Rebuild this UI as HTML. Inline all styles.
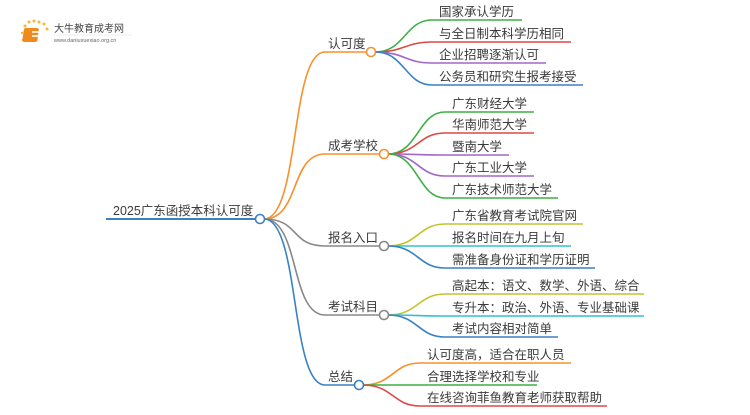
<!DOCTYPE html>
<html><head><meta charset="utf-8"><style>
body{margin:0;background:#fff;width:750px;height:410px;overflow:hidden}
svg text{font-family:"Liberation Sans","Noto Sans CJK SC",sans-serif;fill:#3a3a3a}
</style></head><body>
<svg width="750" height="410" viewBox="0 0 750 410" xmlns="http://www.w3.org/2000/svg">
<!-- logo -->
<g>
<circle cx="25" cy="26" r="1.5" fill="#f5b82e"/><circle cx="29" cy="22" r="1.5" fill="#f5b82e"/><circle cx="34" cy="21" r="1.5" fill="#f5b82e"/><circle cx="39" cy="22" r="1.5" fill="#f5b82e"/><circle cx="44" cy="24" r="1.5" fill="#f5b82e"/><circle cx="47" cy="29" r="1.5" fill="#f5b82e"/><circle cx="22" cy="33" r="1.2" fill="#f5b82e"/><circle cx="23" cy="40" r="1.2" fill="#f5b82e"/>
<rect x="28" y="28" width="15" height="14" rx="2" fill="#f08a1c" transform="skewX(-8)"/>
<rect x="32" y="31" width="7" height="2" fill="#fff" opacity=".8"/><rect x="32" y="35" width="7" height="2" fill="#fff" opacity=".8"/>
<text x="54" y="32" font-size="10" style="fill:#444">大牛教育成考网</text>
<line x1="54" y1="35" x2="132" y2="35" stroke="#ddd" stroke-width="0.6"/>
<text x="54" y="42" font-size="5.5" style="fill:#666">www.daniuxuexiao.org.cn</text>
</g>
<g fill="none" stroke-width="1.6">
<path d="M106 219 H256" stroke="#3a82c4" stroke-width="2"/>
<path d="M264 219 C300 219 290 52 325 52 H367" stroke="#f7902e"/>
<path d="M264 219 C300 219 290 154 325 154 H380" stroke="#f7902e"/>
<path d="M264 219 C300 219 290 246 325 246 H380" stroke="#888"/>
<path d="M264 219 C300 219 290 315 325 315 H380" stroke="#888"/>
<path d="M264 219 C300 219 290 385 325 385 H355" stroke="#3a82c4"/>
<path d="M375 52 C405 52 405 20 432 20 H522" stroke="#3cb043"/>
<path d="M375 52 C405 52 405 42 432 42 H571" stroke="#e04646"/>
<path d="M375 52 C405 52 405 63 432 63 H546" stroke="#a066c8"/>
<path d="M375 52 C405 52 405 85 432 85 H583" stroke="#3a82c4"/>
<path d="M388 154 C418 154 418 112 445 112 H534" stroke="#3cb043"/>
<path d="M388 154 C418 154 418 133 445 133 H534" stroke="#e04646"/>
<path d="M388 154 C418 154 418 155 445 155 H509" stroke="#a066c8"/>
<path d="M388 154 C418 154 418 176 445 176 H534" stroke="#a066c8"/>
<path d="M388 154 C418 154 418 198 445 198 H558" stroke="#3cb043"/>
<path d="M388 246 C418 246 418 224 445 224 H583" stroke="#c2c42e"/>
<path d="M388 246 C418 246 418 246 445 246 H571" stroke="#2fc0d8"/>
<path d="M388 246 C418 246 418 268 445 268 H595" stroke="#3a82c4"/>
<path d="M388 315 C418 315 418 294 445 294 H644" stroke="#c2c42e"/>
<path d="M388 315 C418 315 418 316 445 316 H644" stroke="#2fc0d8"/>
<path d="M388 315 C418 315 418 337 445 337 H558" stroke="#3a82c4"/>
<path d="M363 385 C393 385 393 363 420 363 H571" stroke="#f7902e"/>
<path d="M363 385 C393 385 393 385 420 385 H537" stroke="#3cb043"/>
<path d="M363 385 C393 385 393 406 420 406 H607" stroke="#e04646"/>
</g>
<g fill="#fff" stroke-width="1.6">
<circle cx="260" cy="219" r="4.5" stroke="#3a82c4"/>
<circle cx="371" cy="52" r="4.5" stroke="#f7902e"/>
<circle cx="384" cy="154" r="4.5" stroke="#f7902e"/>
<circle cx="384" cy="246" r="4.5" stroke="#888"/>
<circle cx="384" cy="315" r="4.5" stroke="#888"/>
<circle cx="359" cy="385" r="4.5" stroke="#3a82c4"/>
</g>
<g font-size="12.5">
<text x="113" y="215">2025广东函授本科认可度</text>
<text x="328" y="48">认可度</text>
<text x="328" y="150">成考学校</text>
<text x="328" y="242">报名入口</text>
<text x="328" y="311">考试科目</text>
<text x="328" y="381">总结</text>
</g>
<g font-size="12.5">
<text x="439" y="16">国家承认学历</text>
<text x="439" y="38">与全日制本科学历相同</text>
<text x="439" y="59">企业招聘逐渐认可</text>
<text x="439" y="81">公务员和研究生报考接受</text>
<text x="452" y="108">广东财经大学</text>
<text x="452" y="129">华南师范大学</text>
<text x="452" y="151">暨南大学</text>
<text x="452" y="172">广东工业大学</text>
<text x="452" y="194">广东技术师范大学</text>
<text x="452" y="220">广东省教育考试院官网</text>
<text x="452" y="242">报名时间在九月上旬</text>
<text x="452" y="264">需准备身份证和学历证明</text>
<text x="452" y="290">高起本：语文、数学、外语、综合</text>
<text x="452" y="312">专升本：政治、外语、专业基础课</text>
<text x="452" y="333">考试内容相对简单</text>
<text x="427" y="359">认可度高，适合在职人员</text>
<text x="427" y="381">合理选择学校和专业</text>
<text x="427" y="402">在线咨询菲鱼教育老师获取帮助</text>
</g>
</svg>
</body></html>
